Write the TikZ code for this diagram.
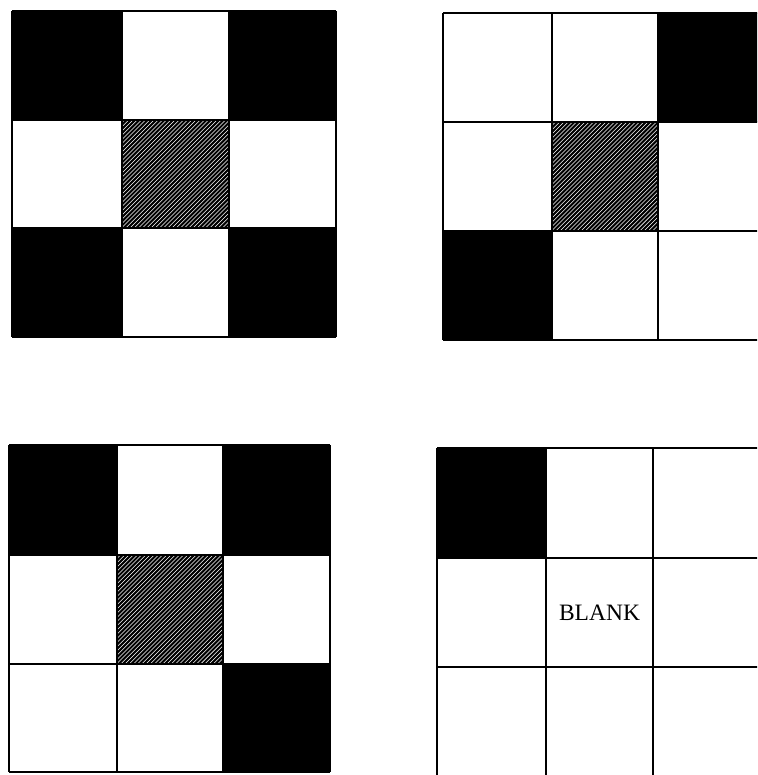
\documentclass[tikz,border=0pt]{standalone}
\usepackage{fontspec}
\setmainfont{Liberation Serif}
\newcommand\hatchcell[4]{%
  \begin{scope}
    \clip (#1,#2) rectangle (#3,#4);
    \fill[black] (#1,#2) rectangle (#3,#4);
    \foreach \k in {0,4.2,...,240}{
      \draw[white,line width=0.55pt] ({#1-120+\k},{#4+2}) -- ++(124,-124);
    }
  \end{scope}}
\newcommand\blk[4]{\fill[black] (#1,#2) rectangle (#3,#4);}
\newcommand\gridlines[8]{%
  \draw[gridline] (#1,#5) -- (#1,#8) (#2,#5) -- (#2,#8) (#3,#5) -- (#3,#8) (#4,#5) -- (#4,#8)
                  (#1,#5) -- (#4,#5) (#1,#6) -- (#4,#6) (#1,#7) -- (#4,#7) (#1,#8) -- (#4,#8);}
\tikzset{gridline/.style={black,line width=1.2pt}}
\begin{document}
\begin{tikzpicture}[x=1pt,y=-1pt]
\useasboundingbox (0,0) rectangle (757,775);
\begin{scope}
\clip (0,0) rectangle (757,775);
% top-left grid
\blk{12}{11}{122}{120}
\blk{229}{11}{336}{120}
\hatchcell{122}{120}{229}{228}
\blk{12}{228}{122}{337}
\blk{229}{228}{336}{337}
\gridlines{12}{122}{229}{336}{11}{120}{228}{337}
% top-right grid
\blk{658}{13}{766}{122}
\hatchcell{552}{122}{658}{231}
\blk{443}{231}{552}{340}
\gridlines{443}{552}{658}{766}{13}{122}{231}{340}
% bottom-left grid
\blk{9}{445}{117}{555}
\blk{223}{445}{330}{555}
\hatchcell{117}{555}{223}{664}
\blk{223}{664}{330}{772}
\gridlines{9}{117}{223}{330}{445}{555}{664}{772}
% bottom-right grid
\blk{437}{448}{546}{558}
\gridlines{437}{546}{653}{761}{448}{558}{667}{776}
\end{scope}
\node[font=\fontsize{23.5}{25}\selectfont, inner sep=0pt] (blank) at (599.5,612.5) {BLANK};
\end{tikzpicture}
\end{document}
